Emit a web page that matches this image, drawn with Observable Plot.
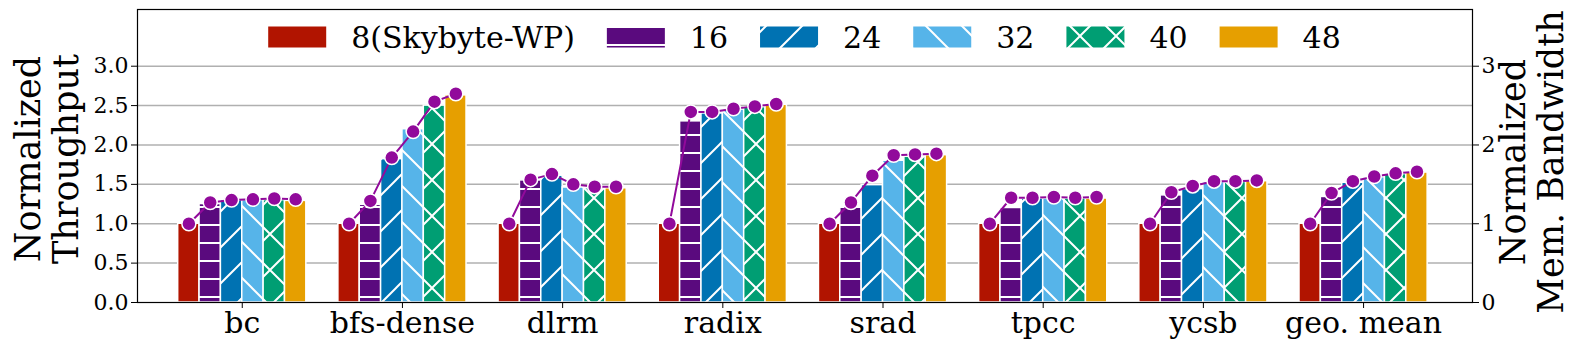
<!DOCTYPE html>
<html><head><meta charset="utf-8">
<script src="https://cdn.jsdelivr.net/npm/d3@7"></script>
<script src="https://cdn.jsdelivr.net/npm/@observablehq/plot@0.6"></script>
<style>body{margin:0;background:#fff}#chart{width:1578px;height:354px}</style>
</head><body><div id="chart"></div>
<script>
// ---- data ----
const categories = ["bc", "bfs-dense", "dlrm", "radix", "srad", "tpcc", "ycsb", "geo. mean"];
const series = ["8(Skybyte-WP)", "16", "24", "32", "40", "48"];
const seriesColors = ["#b11400", "#5a0a7e", "#0072b2", "#56b4e9", "#009e73", "#e69f00"];
const seriesHatch = ["none", "-", "/", "\\", "x", "none"];
const lineColor = "#910a9b";

// normalized throughput (bars), one array per series, in category order
const tput8  = [1.00, 1.00, 1.00, 1.00, 1.00, 1.00, 1.00, 1.00];
const tput16 = [1.25, 1.24, 1.55, 2.30, 1.21, 1.20, 1.36, 1.34];
const tput24 = [1.30, 1.82, 1.61, 2.40, 1.49, 1.32, 1.44, 1.52];
const tput32 = [1.30, 2.20, 1.46, 2.45, 1.80, 1.32, 1.53, 1.59];
const tput40 = [1.30, 2.50, 1.45, 2.48, 1.85, 1.32, 1.53, 1.63];
const tput48 = [1.29, 2.63, 1.45, 2.51, 1.87, 1.32, 1.54, 1.65];

// normalized memory bandwidth (line + markers)
const bw8  = [1.00, 1.00, 1.00, 1.00, 1.00, 1.00, 1.00, 1.00];
const bw16 = [1.27, 1.29, 1.56, 2.42, 1.27, 1.33, 1.40, 1.39];
const bw24 = [1.30, 1.84, 1.63, 2.42, 1.61, 1.33, 1.48, 1.54];
const bw32 = [1.31, 2.17, 1.50, 2.46, 1.87, 1.34, 1.54, 1.60];
const bw40 = [1.32, 2.55, 1.47, 2.49, 1.88, 1.33, 1.54, 1.64];
const bw48 = [1.31, 2.65, 1.47, 2.52, 1.89, 1.34, 1.55, 1.66];

const leftTicks = [0, 0.5, 1.0, 1.5, 2.0, 2.5, 3.0];
const rightTicks = [0, 1, 2, 3];
const leftTitle = "Normalized\nThroughput";
const rightTitle = "Normalized\nMem. Bandwidth";

// ---- table ----
const tputSeries = [tput8, tput16, tput24, tput32, tput40, tput48];
const bwSeries = [bw8, bw16, bw24, bw32, bw40, bw48];
const groupWidth = 0.8, barW = groupWidth / series.length;
const rows = [];
categories.forEach((c, i) => series.forEach((s, j) => rows.push({
  cat: c, s, j,
  tput: tputSeries[j][i], bw: bwSeries[j][i],
  x1: i - groupWidth / 2 + j * barW,
  x2: i - groupWidth / 2 + (j + 1) * barW,
  xc: i - groupWidth / 2 + (j + 0.5) * barW
})));

const font = "'DejaVu Serif', serif";

const plot = Plot.plot({
  width: 1578, height: 354,
  marginLeft: 137, marginRight: 106, marginTop: 9, marginBottom: 52,
  style: {fontFamily: font, fontSize: "21px", color: "#000", background: "#fff", overflow: "visible"},
  x: {domain: [-0.654, 7.68], axis: null},
  y: {domain: [0, 3.72], axis: null},
  color: {type: "identity"},
  marks: [
    Plot.gridY(leftTicks.slice(1), {stroke: "#b0b0b0", strokeOpacity: 1, strokeWidth: 1.5}),
    Plot.rectY(rows, {x1: "x1", x2: "x2", y: "tput", fill: d => `url(#hatch${d.j})`, stroke: "white", strokeWidth: 1.5}),
    Plot.line(rows, {x: "xc", y: "bw", z: "cat", stroke: lineColor, strokeWidth: 2}),
    Plot.dot(rows, {x: "xc", y: "bw", r: 7, fill: lineColor, stroke: "white", strokeWidth: 1.5}),
    Plot.frame({stroke: "#000", strokeWidth: 1.2}),
    Plot.axisY({anchor: "left", ticks: leftTicks, tickFormat: d3.format(".1f"), tickSize: 6, tickPadding: 3, fontSize: 22, label: null}),
    Plot.axisY({anchor: "right", ticks: rightTicks, tickFormat: d3.format("d"), tickSize: 6, tickPadding: 3, fontSize: 22, label: null}),
    Plot.axisX({ticks: d3.range(categories.length), tickFormat: i => categories[i], tickSize: 6, tickPadding: 3, fontSize: 30, label: null}),
    Plot.text([leftTitle], {frameAnchor: "left", text: d => d, rotate: -90, textAnchor: "middle", lineAnchor: "middle", dx: -91, dy: 3, fontSize: 35, lineHeight: 1.1}),
    Plot.text([rightTitle], {frameAnchor: "right", text: d => d, rotate: -90, textAnchor: "middle", lineAnchor: "middle", dx: 59, dy: 6, fontSize: 35, lineHeight: 1.1})
  ]
});
document.getElementById("chart").append(plot);

// ---- hatch patterns ----
const svg = d3.select(plot);
const defs = svg.insert("defs", ":first-child");
seriesHatch.forEach((h, j) => {
  const size = h === "-" ? 18 : 36;
  const p = defs.append("pattern").attr("id", `hatch${j}`)
    .attr("patternUnits", "userSpaceOnUse").attr("width", size).attr("height", size);
  p.append("rect").attr("width", size).attr("height", size).attr("fill", seriesColors[j]);
  let d = null;
  if (h === "-") d = "M0,9H18";
  if (h === "/") d = "M-9,9L9,-9M0,36L36,0M27,45L45,27";
  if (h === "\\") d = "M-9,27L9,45M0,0L36,36M27,-9L45,9";
  if (h === "x") d = "M-9,9L9,-9M0,36L36,0M27,45L45,27M-9,27L9,45M0,0L36,36M27,-9L45,9";
  if (d) p.append("path").attr("d", d).attr("stroke", "white").attr("stroke-width", 2).attr("fill", "none");
});

// ---- legend (inside the frame, top) ----
const lg = svg.append("g").attr("font-family", font).attr("font-size", 30).attr("text-anchor", "start");
const swW = 58, swH = 21, gapText = 25, gapItem = 32, legendY = 37;
const items = series.map((s, j) => {
  const t = lg.append("text").attr("text-anchor", "start").attr("dominant-baseline", "central")
    .attr("y", legendY).attr("fill", "#000").text(s);
  return {t, w: t.node().getComputedTextLength(), j};
});
const total = d3.sum(items, it => swW + gapText + it.w) + gapItem * (items.length - 1);
let cx = (137 + 1472) / 2 - total / 2;
items.forEach(it => {
  lg.append("rect").attr("x", cx).attr("y", legendY - swH / 2).attr("width", swW).attr("height", swH)
    .attr("fill", `url(#hatch${it.j})`);
  it.t.attr("x", cx + swW + gapText);
  cx += swW + gapText + it.w + gapItem;
});
</script></body></html>
